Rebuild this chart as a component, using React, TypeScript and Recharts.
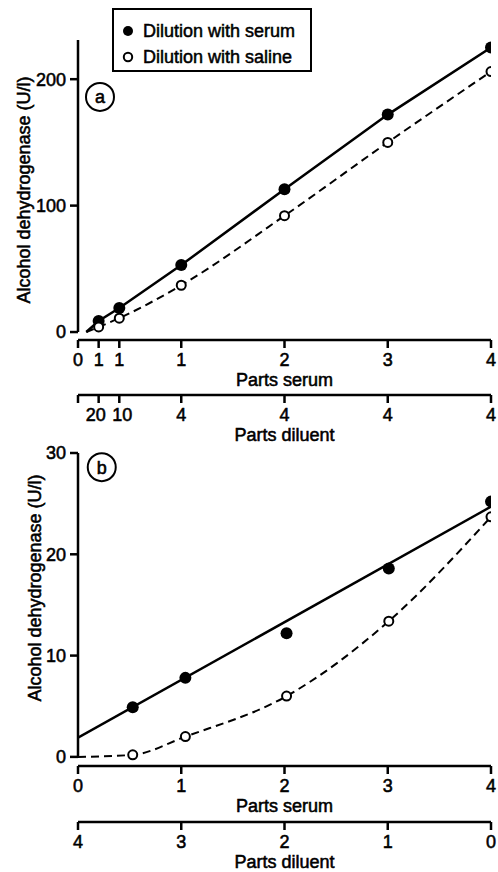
import React from "react";
import {
  ComposedChart,
  Line,
  ReferenceDot,
  ReferenceLine,
  Scatter,
  XAxis,
  YAxis,
} from "recharts";

// panel (a): serum mixed with diluent, x = parts serum (scaled)
const aTicks = [0, 0.2, 0.4, 1, 2, 3, 4];
const aSerumLabels = ["0", "1", "1", "1", "2", "3", "4"];
const aDiluentLabels = ["", "20", "10", "4", "4", "4", "4"];
const aX = [0.2, 0.4, 1, 2, 3, 4];
const aWithSerum = [8.7, 19, 53, 113, 172, 225];
const aWithSaline = [4, 11, 37, 92, 150, 206];
const aCurveX = [0.08, 0.2, 0.4, 1, 2, 3, 4];
const aSerumCurve = [0, 8.7, 19, 53, 113, 172, 225];
const aSalineCurve = [0, 4, 11, 37, 92, 150, 206];
const aYTicks = [0, 100, 200];

// panel (b)
const bTicks = [0, 1, 2, 3, 4];
const bX = [0.53, 1.04, 2.02, 3.01, 4];
const bWithSerum = [4.9, 7.8, 12.2, 18.6, 25.2];
const bWithSaline = [0.2, 2.0, 6.0, 13.4, 23.7];
const bFitX = [0, 4];
const bFitY = [1.9, 24.7];
const bCurveX = [0, 0.53, 1.04, 2.02, 3.01, 4];
const bSalineCurve = [0, 0.2, 2.0, 6.0, 13.4, 23.7];
const bYTicks = [0, 10, 20, 30];

const FONT = "'Liberation Sans', Arial, sans-serif";
const INK = "#000";

const pts = (xs: number[], ys: number[]) => xs.map((x, i) => ({ x, y: ys[i] }));

const FilledDot = (p: any) => <circle cx={p.cx} cy={p.cy} r={6} fill={INK} />;
const OpenDot = (p: any) => (
  <circle cx={p.cx} cy={p.cy} r={4.5} fill="#fff" stroke={INK} strokeWidth={2} />
);

// a thin outline on the glyphs gives the heavier look of the printed figure
const txt = { fontSize: 18, fill: INK, fontFamily: FONT, stroke: INK, strokeWidth: 0.55 };
const tickStyle = { ...txt };
const axisStroke = { stroke: INK, strokeWidth: 2.5 };

// tick text for panel (a), "20" and "10" sit very close so nudge them apart
const aTick = (labels: string[]) => (p: any) => {
  const s = labels[aTicks.indexOf(p.payload.value)];
  const nudge = s === "20" ? -3 : s === "10" ? 3 : 0;
  return (
    <text x={p.x + nudge} y={p.y} dy="0.71em" textAnchor="middle" {...txt}>
      {s}
    </text>
  );
};

const xTitle = (text: string) => (props: any) => {
  const vb = props.viewBox;
  return (
    <text x={vb.x + vb.width / 2} y={vb.y + 46} textAnchor="middle" {...txt}>
      {text}
    </text>
  );
};

const yTitle = (bx: number, cy: number) => () => (
  <text x={bx} y={cy} transform={`rotate(-90, ${bx}, ${cy})`} textAnchor="middle" {...txt}>
    Alcohol dehydrogenase (U/l)
  </text>
);

function Legend() {
  return (
    <div
      style={{
        position: "absolute",
        left: 112,
        top: 8,
        width: 200,
        height: 64,
        boxSizing: "border-box",
        border: "2px solid #000",
        fontFamily: FONT,
        fontSize: 18,
        color: INK,
        WebkitTextStroke: "0.5px #000",
        background: "#fff",
        zIndex: 2,
      }}
    >
      {[
        { label: "Dilution with serum", filled: true },
        { label: "Dilution with saline", filled: false },
      ].map((it, i) => (
        <div
          key={it.label}
          style={{ position: "absolute", left: 0, top: 11 + i * 26, height: 20, display: "flex", alignItems: "center" }}
        >
          <svg width={29} height={20} style={{ display: "block" }}>
            {it.filled ? (
              <circle cx={14} cy={10} r={5} fill={INK} />
            ) : (
              <circle cx={14} cy={10} r={4.2} fill="#fff" stroke={INK} strokeWidth={2} />
            )}
          </svg>
          <span style={{ whiteSpace: "nowrap" }}>{it.label}</span>
        </div>
      ))}
    </div>
  );
}

function PanelA() {
  return (
    <ComposedChart
      width={498}
      height={450}
      margin={{ top: 40, right: 7, bottom: 0, left: 0 }}
      style={{ position: "absolute", left: 0, top: 0 }}
    >
      <XAxis
        dataKey="x"
        type="number"
        domain={[0, 4]}
        ticks={aTicks}
        interval={0}
        allowDataOverflow
        height={55}
        axisLine={axisStroke}
        tickLine={axisStroke}
        tickSize={8}
        tickMargin={5}
        tick={aTick(aSerumLabels)}
        label={xTitle("Parts serum")}
      />
      <XAxis
        xAxisId="d"
        dataKey="x"
        type="number"
        domain={[0, 4]}
        ticks={aTicks}
        interval={0}
        allowDataOverflow
        height={55}
        axisLine={axisStroke}
        tickLine={axisStroke}
        tickSize={8}
        tickMargin={5}
        tick={aTick(aDiluentLabels)}
        label={xTitle("Parts diluent")}
      />
      <YAxis
        type="number"
        domain={[-6.3, 231]}
        ticks={aYTicks}
        interval={0}
        allowDataOverflow
        width={78}
        axisLine={false}
        tickLine={axisStroke}
        tickSize={8}
        tickMargin={4}
        tick={tickStyle}
        label={yTitle(30, 190)}
      />
      <ReferenceLine
        segment={[{ x: 0, y: 0 }, { x: 0, y: 231 }]}
        stroke={INK}
        strokeWidth={2.5}
        ifOverflow="visible"
      />
      <Line
        data={pts(aCurveX, aSerumCurve)}
        dataKey="y"
        type="linear"
        stroke={INK}
        strokeWidth={2.5}
        dot={false}
        activeDot={false}
        isAnimationActive={false}
      />
      <Line
        data={pts(aCurveX, aSalineCurve)}
        dataKey="y"
        type="monotone"
        stroke={INK}
        strokeWidth={2}
        strokeDasharray="8 5"
        dot={false}
        activeDot={false}
        isAnimationActive={false}
      />
      <Scatter data={pts(aX, aWithSerum)} dataKey="y" shape={FilledDot} isAnimationActive={false} />
      <Scatter data={pts(aX, aWithSaline)} dataKey="y" shape={OpenDot} isAnimationActive={false} />
      <ReferenceDot
        x={0.213}
        y={186}
        r={14}
        fill="#fff"
        stroke={INK}
        strokeWidth={2}
        ifOverflow="visible"
        label={{ value: "a", position: "center", ...txt }}
      />
    </ComposedChart>
  );
}

function PanelB() {
  return (
    <ComposedChart
      width={498}
      height={432}
      margin={{ top: 13, right: 7, bottom: 0, left: 0 }}
      style={{ position: "absolute", left: 0, top: 440 }}
    >
      <XAxis
        dataKey="x"
        type="number"
        domain={[0, 4]}
        ticks={bTicks}
        interval={0}
        allowDataOverflow
        height={56}
        axisLine={axisStroke}
        tickLine={axisStroke}
        tickSize={8}
        tickMargin={5}
        tick={tickStyle}
        label={xTitle("Parts serum")}
      />
      <XAxis
        xAxisId="d"
        dataKey="x"
        type="number"
        domain={[0, 4]}
        reversed
        ticks={bTicks}
        interval={0}
        allowDataOverflow
        height={50}
        axisLine={axisStroke}
        tickLine={axisStroke}
        tickSize={8}
        tickMargin={5}
        tick={tickStyle}
        label={xTitle("Parts diluent")}
      />
      <YAxis
        type="number"
        domain={[-0.9, 30]}
        ticks={bYTicks}
        interval={0}
        allowDataOverflow
        width={78}
        axisLine={false}
        tickLine={axisStroke}
        tickSize={8}
        tickMargin={4}
        tick={tickStyle}
        label={yTitle(41, 148)}
      />
      <ReferenceLine
        segment={[{ x: 0, y: 0 }, { x: 0, y: 30 }]}
        stroke={INK}
        strokeWidth={2.5}
        ifOverflow="visible"
      />
      <Line
        data={pts(bFitX, bFitY)}
        dataKey="y"
        type="linear"
        stroke={INK}
        strokeWidth={2.5}
        dot={false}
        activeDot={false}
        isAnimationActive={false}
      />
      <Line
        data={pts(bCurveX, bSalineCurve)}
        dataKey="y"
        type="monotone"
        stroke={INK}
        strokeWidth={2}
        strokeDasharray="8 5"
        dot={false}
        activeDot={false}
        isAnimationActive={false}
      />
      <Scatter data={pts(bX, bWithSerum)} dataKey="y" shape={FilledDot} isAnimationActive={false} />
      <Scatter data={pts(bX, bWithSaline)} dataKey="y" shape={OpenDot} isAnimationActive={false} />
      <ReferenceDot
        x={0.23}
        y={28.6}
        r={14}
        fill="#fff"
        stroke={INK}
        strokeWidth={2}
        ifOverflow="visible"
        label={{ value: "b", position: "center", ...txt }}
      />
    </ComposedChart>
  );
}

export default function App() {
  return (
    <div style={{ position: "absolute", left: 0, top: 0, width: 498, height: 872, background: "#fff" }}>
      <PanelA />
      <PanelB />
      <Legend />
    </div>
  );
}
